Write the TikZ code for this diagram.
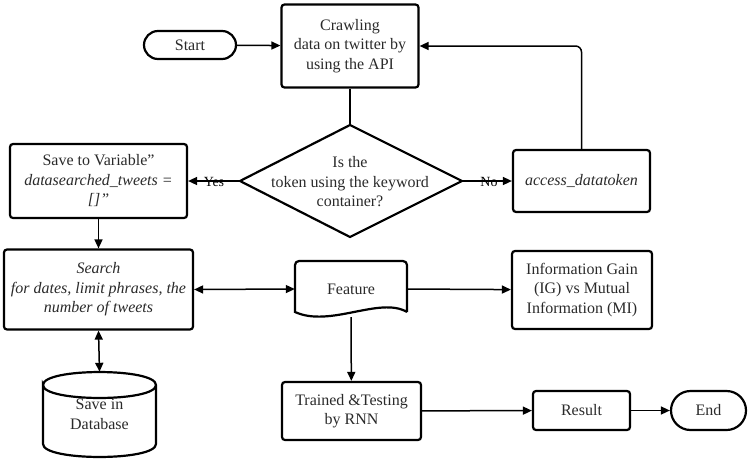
\documentclass[tikz,border=0pt]{standalone}
\usepackage{fontspec}
\setmainfont{Liberation Serif}
\usetikzlibrary{arrows.meta,shapes.misc}
\definecolor{ink}{HTML}{2A2A2A}
\begin{document}
\begin{tikzpicture}[x=1pt,y=-1pt,
  every node/.style={font=\fontsize{16}{19.5}\selectfont, text=ink},
  outline/.style={draw=black, line width=2.2pt},
  proc/.style={outline, rounded corners=3pt, align=center, inner sep=1pt},
  term/.style={outline, rounded rectangle, inner sep=1pt},
  flow/.style={line width=1.5pt, -{Triangle[length=9pt,width=8pt]}},
  both/.style={line width=1.5pt, {Triangle[length=9pt,width=8pt]}-{Triangle[length=9pt,width=8pt]}},
  tag/.style={font=\fontsize{14}{16}\selectfont, text=black, inner sep=0pt}
]
\useasboundingbox (0,0) rectangle (749,466);

% terminals and process boxes
\node[term, minimum width=94, minimum height=28] (start) at (190,45) {Start};
\node[proc, minimum width=137, minimum height=83] (crawl) at (350,46)
  {Crawling\\data on twitter by\\using the API};
\node[proc, minimum width=177, minimum height=74] (save) at (98.5,181)
  {Save to Variable”\\\textit{datasearched\_tweets =}\\\textit{[]”}};
\node[proc, minimum width=137, minimum height=62] (acc) at (581.5,181)
  {\textit{access\_datatoken}};
\node[proc, minimum width=189, minimum height=80] (search) at (98.5,289.5)
  {\textit{Search}\\\textit{for dates, limit phrases, the}\\\textit{number of tweets}};
\node[proc, minimum width=140, minimum height=78] (ig) at (582,290)
  {Information Gain\\(IG) vs Mutual\\Information (MI)};
\node[proc, minimum width=139, minimum height=58] (train) at (351.5,411)
  {Trained \&Testing\\by RNN};
\node[proc, minimum width=97, minimum height=39] (result) at (581.5,410.5) {Result};
\node[term, minimum width=77, minimum height=39] (end) at (708.5,410.5) {End};

% decision diamond
\coordinate (dt) at (350,125);
\coordinate (dr) at (462,181);
\coordinate (db) at (350,237);
\coordinate (dl) at (240,181);
\draw[outline, line join=miter] (dt) -- (dr) -- (db) -- (dl) -- cycle;
\node[align=center] (q) at (350,182) {Is the\\token using the keyword\\container?};

% document shape for the feature step
\node[minimum width=112, minimum height=56, inner sep=0pt] (feat) at (351,289) {Feature};
\draw[outline] (407,312) [rounded corners=4pt] -- (407,261) -- (295,261) [sharp corners] -- (295,312)
  .. controls (330,328) and (380,296) .. (407,312);

% database cylinder
\node[minimum width=113, minimum height=85, inner sep=0pt, align=center] (dbase) at (99.5,414.5)
  {Save in\\Database};
\draw[outline] (43,385) .. controls (43,367.7) and (156,367.7) .. (156,385)
  .. controls (156,402.3) and (43,402.3) .. (43,385) -- (43,444)
  .. controls (43,461.3) and (156,461.3) .. (156,444) -- (156,385);

% connectors
\draw[flow] (start) -- (crawl);
\draw[line width=1.5pt] (crawl) -- (dt);
\draw[flow] (dl) -- (save);
\draw[flow] (dr) -- (acc);
\node[tag] at (214,182) {Yes};
\node[tag] at (489,182) {No};
\draw[flow, rounded corners=6pt] (acc.north) |- (crawl.east);
\draw[flow] (save) -- (search);
\draw[both] (search.east) -- (feat.west);
\draw[flow] (feat.east) -- (ig);
\draw[flow] (feat.south) -- (train);
\draw[flow] (train) -- (result);
\draw[flow] (result) -- (end);
\draw[both] (search.south) -- (dbase.north);
\end{tikzpicture}
\end{document}
